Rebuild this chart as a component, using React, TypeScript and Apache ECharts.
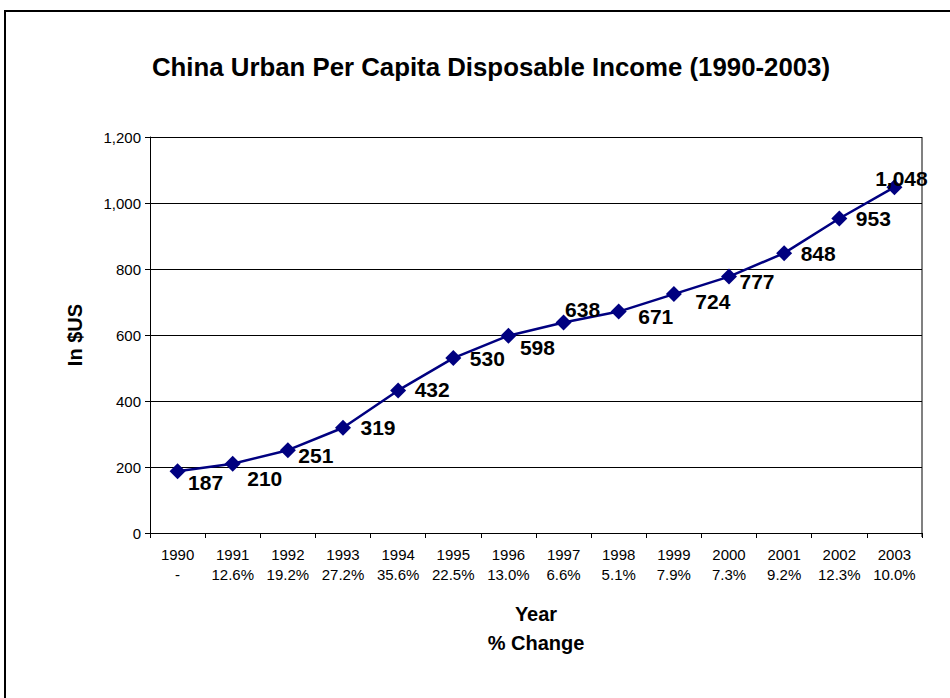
import React, { useEffect, useRef } from "react";
import * as echarts from "echarts";

const years = ["1990", "1991", "1992", "1993", "1994", "1995", "1996", "1997", "1998", "1999", "2000", "2001", "2002", "2003"];
const pctChange = ["-", "12.6%", "19.2%", "27.2%", "35.6%", "22.5%", "13.0%", "6.6%", "5.1%", "7.9%", "7.3%", "9.2%", "12.3%", "10.0%"];
const income = [187, 210, 251, 319, 432, 530, 598, 638, 671, 724, 777, 848, 953, 1048];
const labelOffsets: [number, number][] = [
  [28, 11], [32, 15], [28, 5], [35, 0], [34, -1], [34, 0], [29, 12],
  [19, -13], [37, 5], [39, 7], [28, 5], [34, 0], [34, 0], [7, -9],
];
const yTicks = { min: 0, max: 1200, interval: 200 };
const titleText = "China Urban Per Capita Disposable Income (1990-2003)";

const FONT = "'Liberation Sans', Arial, Helvetica, sans-serif";

export default function App() {
  const ref = useRef<HTMLDivElement>(null);
  useEffect(() => {
    if (!ref.current) return;
    const chart = echarts.init(ref.current, undefined, { renderer: "svg" });
    const gridLeft = 150, gridRight = 28, gridTop = 137, gridBottom = 165;
    chart.setOption({
      animation: false,
      backgroundColor: "#fff",
      grid: { left: gridLeft, right: gridRight, top: gridTop, bottom: gridBottom, containLabel: false },
      graphic: [
        {
          type: "rect",
          shape: { x: 5, y: 11, width: 1000, height: 1000 },
          style: { fill: "none", stroke: "#000", lineWidth: 2 },
          silent: true,
        },
        {
          type: "line",
          shape: { x1: 950 - gridRight, y1: gridTop, x2: 950 - gridRight, y2: 698 - gridBottom + 4 },
          style: { stroke: "#808080", lineWidth: 2 },
          silent: true,
        },
        {
          type: "text",
          x: 491,
          y: 67,
          style: {
            text: titleText,
            fill: "#000",
            font: `bold 25.8px ${FONT}`,
            textAlign: "center",
            textVerticalAlign: "middle",
          },
        },
      ],
      xAxis: {
        type: "category",
        data: years,
        boundaryGap: true,
        name: "Year\n% Change",
        nameLocation: "middle",
        nameGap: 66,
        nameTextStyle: { fontFamily: FONT, fontWeight: "bold", fontSize: 20, color: "#000", lineHeight: 29 },
        axisLine: { lineStyle: { color: "#000", width: 1 } },
        axisTick: { show: true, length: 5, lineStyle: { color: "#000" }, interval: 0 },
        axisLabel: {
          interval: 0,
          fontFamily: FONT,
          fontSize: 15,
          color: "#000",
          lineHeight: 20,
          margin: 11,
          formatter: (v: string, i: number) => `${v}\n${pctChange[i]}`,
        },
        splitLine: { show: false },
      },
      yAxis: {
        type: "value",
        min: yTicks.min,
        max: yTicks.max,
        interval: yTicks.interval,
        name: "In $US",
        nameLocation: "middle",
        nameGap: 65,
        nameTextStyle: { fontFamily: FONT, fontWeight: "bold", fontSize: 20, color: "#000" },
        axisLine: { show: true, lineStyle: { color: "#000", width: 1 } },
        axisTick: { show: true, length: 5, lineStyle: { color: "#000" } },
        axisLabel: {
          fontFamily: FONT,
          fontSize: 15,
          color: "#000",
          margin: 9,
          formatter: (v: number) => v.toLocaleString("en-US"),
        },
        splitLine: { show: true, lineStyle: { color: "#000", width: 1 } },
      },
      series: [
        {
          type: "line",
          data: income.map((v, i) => ({
            value: v,
            label: { offset: labelOffsets[i] },
          })),
          symbol: "diamond",
          symbolSize: 16,
          itemStyle: { color: "#000080" },
          lineStyle: { color: "#000080", width: 2.5 },
          label: {
            show: true,
            position: "inside",
            fontFamily: FONT,
            fontWeight: "bold",
            fontSize: 21,
            color: "#000",
            formatter: (p: any) => Number(p.value).toLocaleString("en-US"),
          },
        },
      ],
    });
    return () => chart.dispose();
  }, []);
  return (
    <div
      ref={ref}
      style={{ position: "fixed", left: 0, top: 0, width: 950, height: 698, background: "#fff" }}
    />
  );
}
